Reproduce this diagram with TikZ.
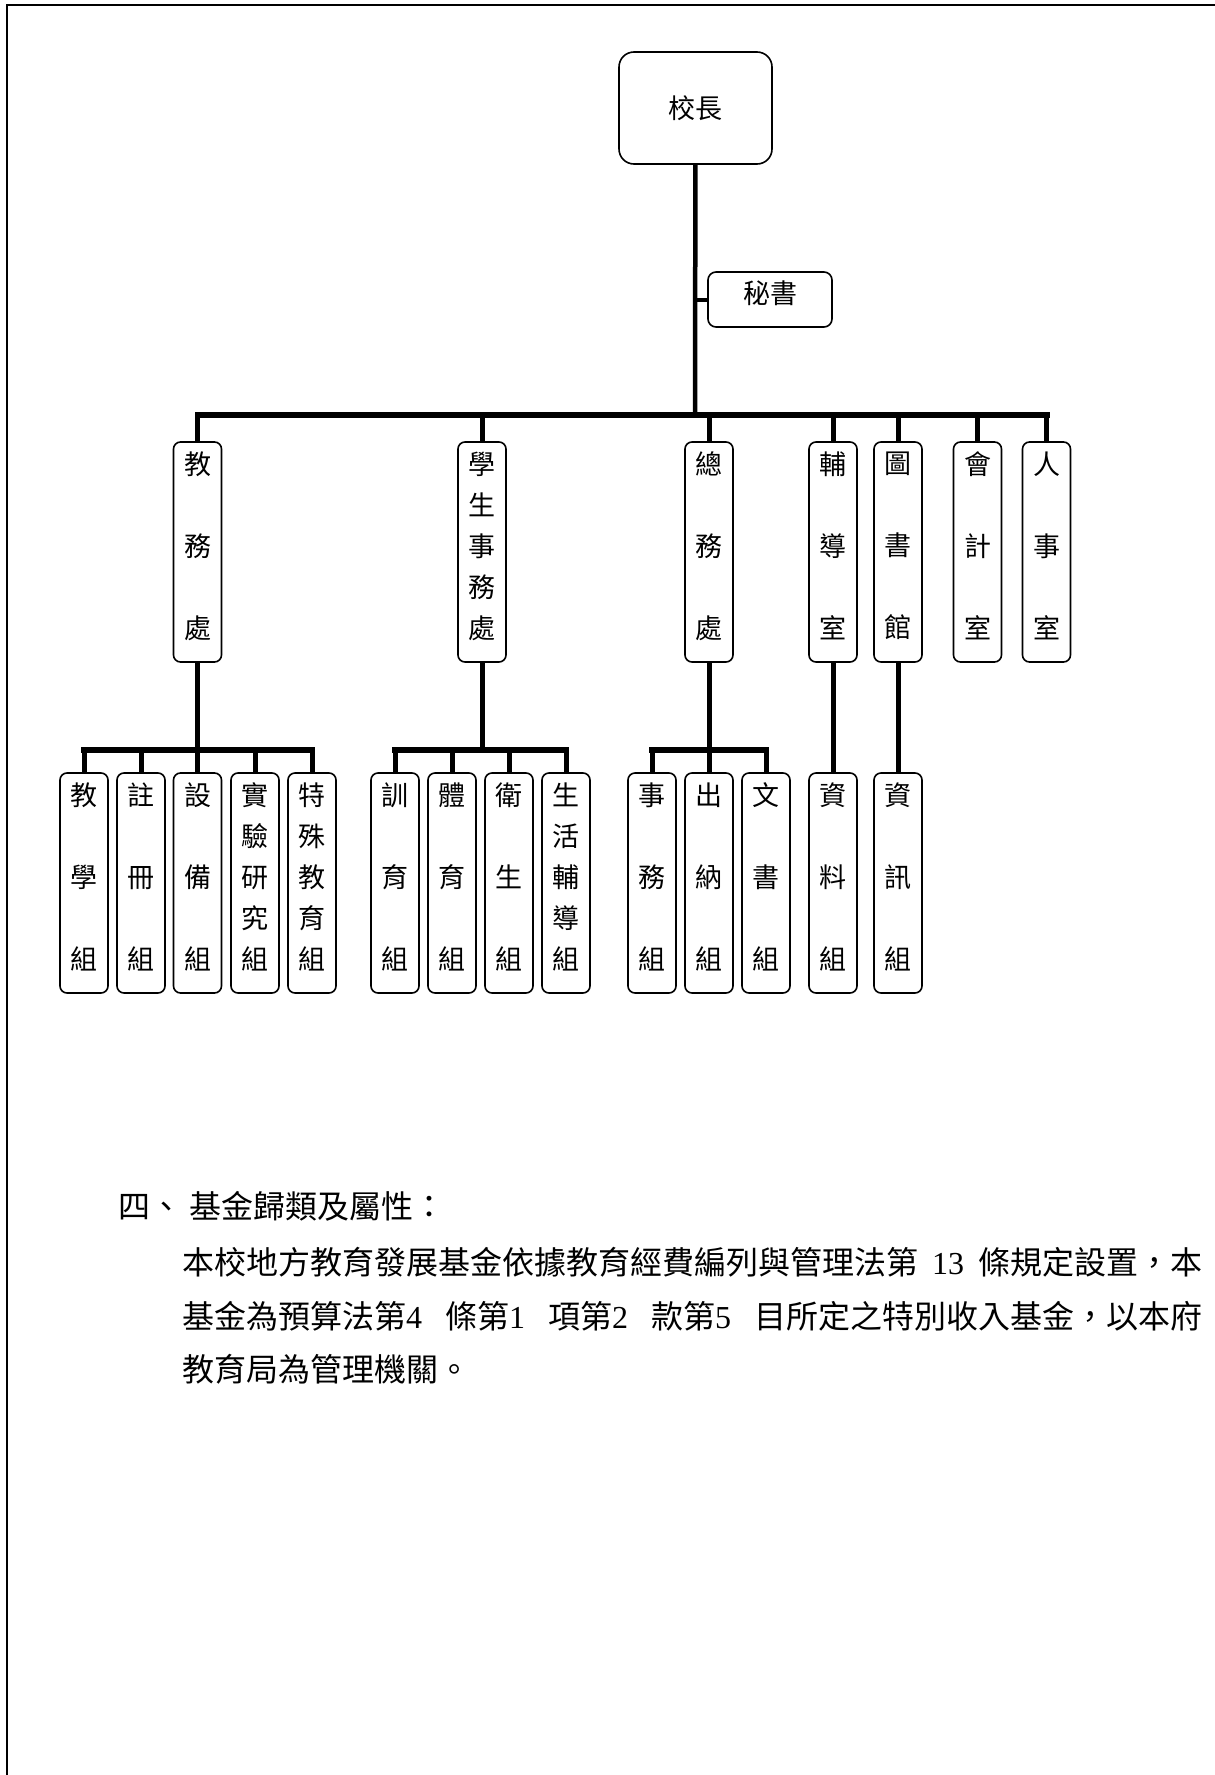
\documentclass[tikz,border=0pt]{standalone}
\usepackage{fontspec}
\setmainfont{Noto Sans CJK TC}
\newfontfamily\latin{Liberation Serif}
\begin{document}
\begin{tikzpicture}[x=1pt, y=-1pt,
	box/.style={rectangle, draw, line width=1.6pt, rounded corners=7pt, inner sep=0pt, align=center},
	unit/.style={box, minimum width=48pt, minimum height=220pt, text depth=14pt},
	three/.style={font=\fontsize{27pt}{82pt}\selectfont},
	five/.style={font=\fontsize{27pt}{41pt}\selectfont},
	link/.style={line width=5pt},
	bus/.style={line width=6pt, line cap=rect},
	body/.style={anchor=base west, inner sep=0pt, font=\fontsize{32pt}{40pt}\selectfont}]
	\useasboundingbox (0, 0) rectangle (1215, 1775);
	\draw[line width=2pt] (7, 1775) -- (7, 5) -- (1215, 5);

	\node (head) at (695.5, 108)	[box, minimum width=153pt, minimum height=112pt, rounded corners=15pt, font=\fontsize{27pt}{32pt}\selectfont]	{校長};
	\node (sec) at (770, 299.5)	[box, minimum width=124pt, minimum height=55pt, rounded corners=8pt, text depth=15pt, font=\fontsize{27pt}{32pt}\selectfont]	{秘書};

	\node (jw) at (197.5, 552)	[unit, three]	{教\\務\\處};
	\node (xs) at (482, 552)	[unit, five]	{學\\生\\事\\務\\處};
	\node (zw) at (709, 552)	[unit, three]	{總\\務\\處};
	\node (fd) at (833, 552)	[unit, three]	{輔\\導\\室};
	\node (ts) at (898, 552)	[unit, three]	{圖\\書\\館};
	\node (kj) at (977.5, 552)	[unit, three]	{會\\計\\室};
	\node (rs) at (1046.5, 552)	[unit, three]	{人\\事\\室};

	\node (j1) at (84, 883)	[unit, three]	{教\\學\\組};
	\node (j2) at (141, 883)	[unit, three]	{註\\冊\\組};
	\node (j3) at (197.5, 883)	[unit, three]	{設\\備\\組};
	\node (j4) at (255, 883)	[unit, five]	{實\\驗\\研\\究\\組};
	\node (j5) at (312, 883)	[unit, five]	{特\\殊\\教\\育\\組};
	\node (x1) at (395, 883)	[unit, three]	{訓\\育\\組};
	\node (x2) at (452, 883)	[unit, three]	{體\\育\\組};
	\node (x3) at (509, 883)	[unit, three]	{衛\\生\\組};
	\node (x4) at (566, 883)	[unit, five]	{生\\活\\輔\\導\\組};
	\node (z1) at (652, 883)	[unit, three]	{事\\務\\組};
	\node (z2) at (709, 883)	[unit, three]	{出\\納\\組};
	\node (z3) at (766, 883)	[unit, three]	{文\\書\\組};
	\node (f1) at (833, 883)	[unit, three]	{資\\料\\組};
	\node (t1) at (898, 883)	[unit, three]	{資\\訊\\組};

	\coordinate (hub) at (695, 415);
	\coordinate (row) at (0, 749.5);

	\draw[line width=4.5pt] (head) -- (hub);
	\draw[line width=4pt] (sec) -- (sec -| hub);
	\draw[bus] (jw |- hub) -- (rs |- hub);
	\foreach \d in {jw, xs, zw, fd, ts, kj, rs}
		\draw[link] (\d) -- (\d |- hub);

	\draw[bus] (j1 |- row) -- (j5 |- row);
	\draw[bus] (x1 |- row) -- (x4 |- row);
	\draw[bus] (z1 |- row) -- (z3 |- row);
	\foreach \d in {jw, xs, zw, j1, j2, j3, j4, j5, x1, x2, x3, x4, z1, z2, z3}
		\draw[link] (\d) -- (\d |- row);
	\draw[link] (fd) -- (f1);
	\draw[link] (ts) -- (t1);

	\node (sec4) at (118, 1218)	[body]	{四、};
	\node (title4) at (189, 1218)	[body]	{基金歸類及屬性：};
	\node (line1) at (182, 1274)	[body]	{\makebox[1020pt][l]{本校地方教育發展基金依據教育經費編列與管理法第\hfill{\latin 13}\hfill 條規定設置，本}};
	\node (line2) at (182, 1328)	[body]	{\makebox[1020pt][l]{基金為預算法第{\latin 4}\hfill 條第{\latin 1}\hfill 項第{\latin 2}\hfill 款第{\latin 5}\hfill 目所定之特別收入基金，以本府}};
	\node (line3) at (182, 1381)	[body]	{教育局為管理機關。};
\end{tikzpicture}
\end{document}
